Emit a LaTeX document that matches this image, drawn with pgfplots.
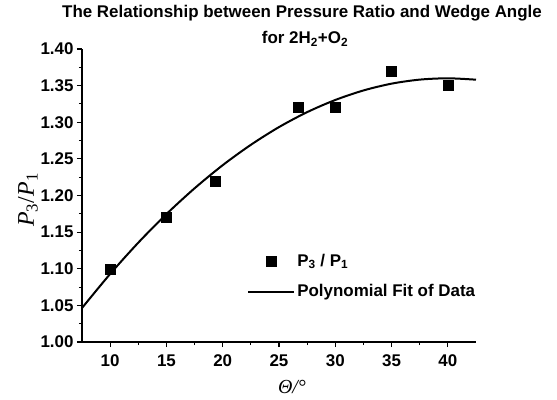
\documentclass[border=0pt]{standalone}
\usepackage{pgfplots}
\pgfplotsset{compat=1.18}
\usepackage{fontspec}
\setmainfont{Liberation Sans}
\newfontfamily\seriffont{Liberation Serif}
\pgfplotsset{
  legmark/.style={legend image code/.code={\draw[##1, mark repeat=2, mark phase=2] plot coordinates {(0bp,0bp)(23bp,0bp)(46bp,0bp)};}},
  legline/.style={legend image code/.code={\draw[##1] (0bp,0bp) -- (46bp,0bp);}},
}
\begin{document}
\begin{tikzpicture}
\path[use as bounding box] (0,0) rectangle (557bp,400bp);
\node[font=\bfseries\fontsize{17}{17}\selectfont] at (302bp,387bp) {The Relationship between Pressure Ratio and Wedge Angle};
\node[font=\bfseries\fontsize{17}{17}\selectfont] at (305bp,361bp) {for 2H\textsubscript{2}+O\textsubscript{2}};
\begin{axis}[
  at={(82bp,58bp)}, anchor=south west,
  scale only axis, width=394bp, height=293bp,
  xmin=7.5, xmax=42.5, ymin=1.0, ymax=1.40,
  axis x line=bottom, axis y line=left,
  axis line style={-, line width=2.2bp},
  xtick={10,15,20,25,30,35,40},
  ytick={1.00,1.05,1.10,1.15,1.20,1.25,1.30,1.35,1.40},
  minor x tick num=1, minor y tick num=1,
  tick align=outside,
  major tick length=5bp, minor tick length=3bp,
  every tick/.style={black, line width=1.1bp},
  /pgf/number format/assume math mode=true,
  yticklabel style={/pgf/number format/fixed, /pgf/number format/fixed zerofill, /pgf/number format/precision=2},
  ticklabel style={font=\bfseries\fontsize{17}{17}\selectfont},
  xticklabel style={yshift=-4bp},
  xlabel={\seriffont\itshape\fontsize{20}{20}\selectfont Θ/°},
  xlabel style={at={(axis description cs:0.533,-0.152)}, anchor=center},
  ylabel={\seriffont\fontsize{24}{24}\selectfont\textit{P}\textsubscript{3}/\textit{P}\textsubscript{1}},
  ylabel style={at={(axis description cs:-0.137,0.485)}, anchor=center},
  legend style={draw=none, fill=none, inner sep=0pt, at={(0.419,0.308)}, anchor=north west,
    font=\bfseries\fontsize{17}{17}\selectfont, row sep=13bp, nodes={inner sep=2bp}},
  legend cell align=left,
]
\addplot[only marks, mark=square*, mark size=5bp, black, legmark]
  coordinates {(10,1.10) (15,1.17) (19.3,1.22) (26.7,1.32) (30,1.32) (35,1.37) (40,1.35)};
\addlegendentry{P\textsubscript{3} / P\textsubscript{1}}
\addplot[black, line width=2bp, smooth, legline]
  coordinates {(7.5,1.0464) (10,1.0929) (12.5,1.1356) (15,1.1746) (17.5,1.2098) (20,1.2414) (22.5,1.2692) (25,1.2934) (27.5,1.3138) (30,1.3304) (32.5,1.3434) (35,1.3527) (37.5,1.3582) (40,1.3600) (42.5,1.3581)};
\addlegendentry{Polynomial Fit of Data}
\end{axis}
\end{tikzpicture}
\end{document}
